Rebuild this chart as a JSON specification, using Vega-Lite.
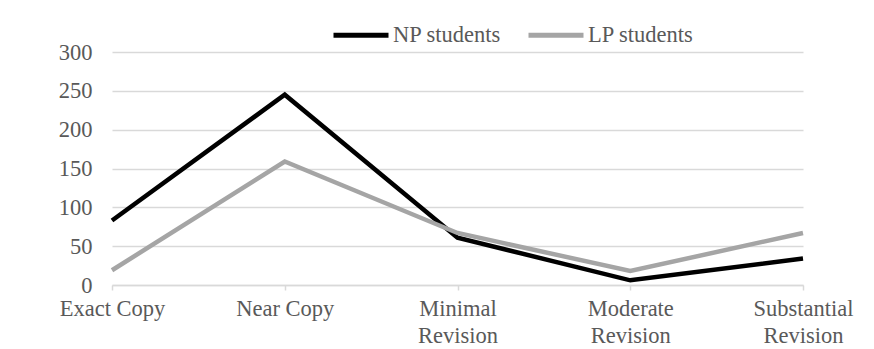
{
  "$schema": "https://vega.github.io/schema/vega-lite/v6.json",
  "width": 691,
  "height": 233,
  "autosize": {"type": "none"},
  "padding": {"left": 112, "top": 52, "right": 71, "bottom": 64},
  "background": "white",
  "data": {
    "values": [
      {"category": "Exact Copy", "group": "NP students", "count": 83},
      {"category": "Near Copy", "group": "NP students", "count": 245},
      {"category": "Minimal Revision", "group": "NP students", "count": 61},
      {"category": "Moderate Revision", "group": "NP students", "count": 6},
      {"category": "Substantial Revision", "group": "NP students", "count": 34},
      {"category": "Exact Copy", "group": "LP students", "count": 19},
      {"category": "Near Copy", "group": "LP students", "count": 159},
      {"category": "Minimal Revision", "group": "LP students", "count": 67},
      {"category": "Moderate Revision", "group": "LP students", "count": 18},
      {"category": "Substantial Revision", "group": "LP students", "count": 67}
    ]
  },
  "mark": {"type": "line", "strokeWidth": 4.5},
  "encoding": {
    "x": {
      "field": "category",
      "type": "nominal",
      "sort": null,
      "scale": {"type": "point", "padding": 0},
      "axis": {
        "title": null,
        "labelAngle": 0,
        "domainColor": "#d9d9d9",
        "domainWidth": 1.5,
        "tickColor": "#d9d9d9",
        "tickSize": 5,
        "tickWidth": 1.5,
        "labelPadding": 7,
        "labelLineHeight": 27,
        "labelBaseline": "top",
        "labelExpr": "length(datum.label) > 10 ? split(datum.label, ' ') : datum.label",
        "grid": false
      }
    },
    "y": {
      "field": "count",
      "type": "quantitative",
      "scale": {"domain": [0, 300], "nice": false},
      "axis": {
        "title": null,
        "values": [0, 50, 100, 150, 200, 250, 300],
        "domain": false,
        "ticks": false,
        "tickSize": 0,
        "labelPadding": 20,
        "gridColor": "#d9d9d9",
        "gridWidth": 1.5
      }
    },
    "color": {
      "field": "group",
      "type": "nominal",
      "scale": {"domain": ["NP students", "LP students"], "range": ["#000000", "#a5a5a5"]},
      "legend": {
        "title": null,
        "orient": "none",
        "direction": "horizontal",
        "legendX": 219,
        "legendY": -47,
        "symbolType": "stroke",
        "symbolSize": 3025,
        "symbolStrokeWidth": 5,
        "labelOffset": 2,
        "columnPadding": 16,
        "labelFontSize": 22.5,
        "labelColor": "#595959",
        "labelFont": "Liberation Serif"
      }
    }
  },
  "config": {
    "font": "Liberation Serif",
    "view": {"stroke": null},
    "axis": {"labelFont": "Liberation Serif", "labelFontSize": 22.5, "labelColor": "#595959"}
  }
}
